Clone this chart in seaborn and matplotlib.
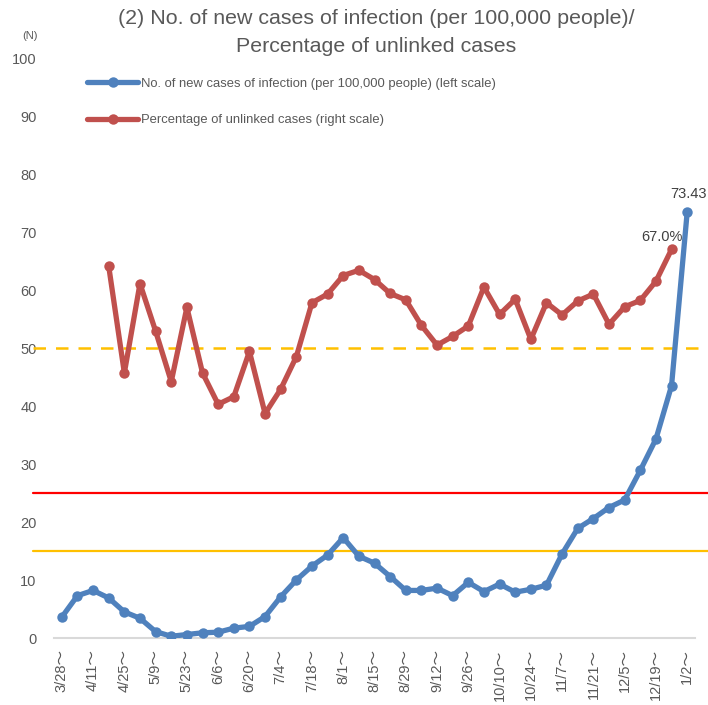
import numpy as np
import pandas as pd
import matplotlib
matplotlib.use("Agg")
import matplotlib.pyplot as plt
import seaborn as sns

weeks = ["3/28", "4/4", "4/11", "4/18", "4/25", "5/2", "5/9", "5/16", "5/23", "5/30",
         "6/6", "6/13", "6/20", "6/27", "7/4", "7/11", "7/18", "7/25", "8/1", "8/8",
         "8/15", "8/22", "8/29", "9/5", "9/12", "9/19", "9/26", "10/3", "10/10", "10/17",
         "10/24", "10/31", "11/7", "11/14", "11/21", "11/28", "12/5", "12/12", "12/19",
         "12/26", "1/2"]

new_cases = [3.6, 7.3, 8.2, 6.9, 4.5, 3.4, 1.1, 0.3, 0.6, 0.9,
             1.0, 1.7, 2.0, 3.7, 7.1, 10.0, 12.4, 14.3, 17.3, 14.1,
             12.9, 10.6, 8.2, 8.2, 8.6, 7.3, 9.6, 8.0, 9.3, 7.9,
             8.4, 9.1, 14.5, 18.9, 20.6, 22.5, 23.8, 28.9, 34.3,
             43.5, 73.43]

unlinked = [np.nan, np.nan, np.nan, 64.1, 45.7, 61.1, 52.9, 44.2, 57.0, 45.7,
            40.3, 41.6, 49.4, 38.7, 42.9, 48.5, 57.8, 59.3, 62.5, 63.4,
            61.8, 59.4, 58.3, 53.9, 50.5, 52.0, 53.8, 60.5, 55.8, 58.4,
            51.5, 57.8, 55.7, 58.1, 59.3, 54.1, 57.1, 58.2, 61.5,
            67.0, np.nan]

ref_levels = [50, 25, 15]
ref_colors = ["#FFC000", "#FF0000", "#FFC000"]
ref_styles = ["--", "-", "-"]

label_blue = "No. of new cases of infection (per 100,000 people) (left scale)"
label_red = "Percentage of unlinked cases (right scale)"
title = "(2) No. of new cases of infection (per 100,000 people)/\nPercentage of unlinked cases"

sns.set_style("white")
plt.rcParams['font.family'] = ['Liberation Sans', 'Noto Sans CJK JP', 'DejaVu Sans']

grey = "#595959"
blue = "#4F81BD"
red = "#C0504D"

W, H = 708, 705
fig = plt.figure(figsize=(W / 100, H / 100), dpi=100)
ax = fig.add_axes([54 / W, (H - 638) / H, (695 - 54) / W, (638 - 58) / H])

df = pd.DataFrame({"x": np.arange(len(weeks)), "cases": new_cases, "unlinked": unlinked})

# reference lines (drawn first, behind the data)
for lvl, c, ls in zip(ref_levels, ref_colors, ref_styles):
    ax.axhline(lvl, xmin=-0.033, xmax=1.03, color=c, ls=ls,
               lw=1.6 if ls == "-" else 1.8, clip_on=False, zorder=1,
               dashes=(5, 4) if ls == "--" else (None, None))

sns.lineplot(data=df, x="x", y="cases", ax=ax, color=blue, lw=3.8,
             marker="o", markersize=7.5, markeredgewidth=0, label=label_blue, zorder=3)
sns.lineplot(data=df.dropna(subset=["unlinked"]), x="x", y="unlinked", ax=ax, color=red,
             lw=3.8, marker="o", markersize=7.5, markeredgewidth=0, label=label_red, zorder=3)

ax.set_xlim(-0.5, len(weeks) - 0.5)
ax.set_ylim(0, 100)
ax.set_yticks(range(0, 101, 10))
ax.set_yticklabels([str(v) for v in range(0, 101, 10)], fontsize=10.5, color=grey)
tick_idx = list(range(0, len(weeks), 2))
ax.set_xticks(tick_idx)
ax.set_xticklabels([weeks[i] + "～" for i in tick_idx], rotation=90, fontsize=10.5,
                   color=grey)
ax.tick_params(axis="x", length=0, pad=8)
ax.tick_params(axis="y", length=0, pad=12.5)
ax.set_xlabel("")
ax.set_ylabel("")
for s in ["top", "right", "left"]:
    ax.spines[s].set_visible(False)
ax.spines["bottom"].set_color("#D9D9D9")
ax.spines["bottom"].set_linewidth(1.5)

fig.text(376 / W, 1 - 33 / H, title, fontsize=15.4, color=grey, ha="center",
         va="center", linespacing=1.6)
fig.text(30 / W, 1 - 36 / H, "(N)", fontsize=8, color=grey, ha="center", va="center")

leg = ax.legend(loc="upper left", bbox_to_anchor=(28 / 641, 0.975), frameon=False,
                fontsize=9.4, labelspacing=1.85, handlelength=3.9, handletextpad=0.2,
                labelcolor=grey, borderaxespad=0)

last = len(weeks) - 1
ax.annotate(f"{new_cases[last]:.2f}", (last, new_cases[last]), xytext=(1, 8),
            textcoords="offset points", ha="center", va="bottom", fontsize=10.5,
            color="#404040", annotation_clip=False)
ax.annotate(f"{unlinked[last - 1]:.1f}%", (last - 1, unlinked[last - 1]), xytext=(-7, 4),
            textcoords="offset points", ha="center", va="bottom", fontsize=10.5,
            color="#404040", annotation_clip=False)

fig.savefig("out.png", dpi=100)
